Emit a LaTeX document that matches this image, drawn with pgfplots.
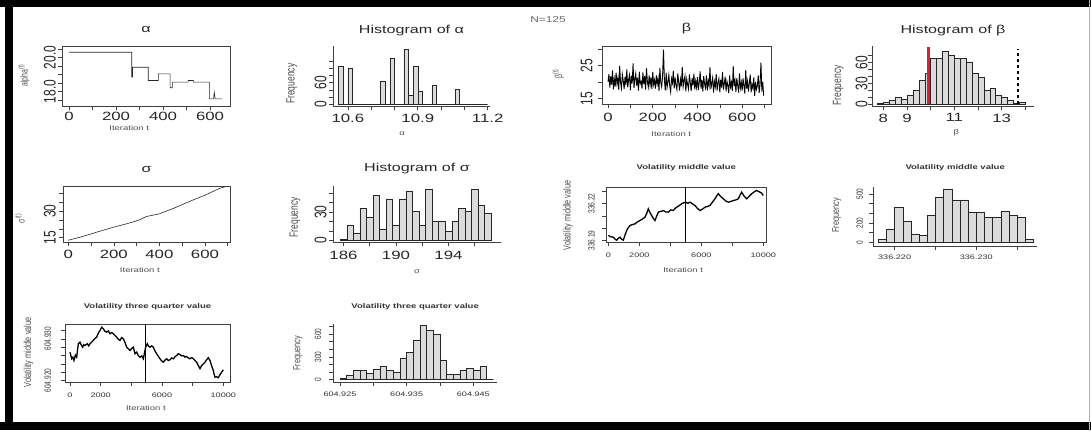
\documentclass[border=0pt]{standalone}
\usepackage{fontspec}
\setmainfont{Liberation Sans}[FakeStretch=1.4]
\newfontfamily\plainfont{Liberation Sans}
\usepackage{graphicx}
\usepackage{pgfplots}
\pgfplotsset{compat=1.18}
\definecolor{barfill}{gray}{0.86}
\definecolor{rred}{rgb}{0.86,0.12,0.25}
\newcommand{\R}[1]{\scalebox{1.4}[1]{\rotatebox{90}{\plainfont #1}}}
\pgfplotsset{
  rbase/.style={scale only axis, anchor=south west, scaled ticks=false,
    /pgf/number format/assume math mode=true,
    axis line style={black!75, line width=0.6pt},
    tick style={black!75, line width=0.6pt},
    tick align=outside, major tick length=4pt, minor tick num=0,
    xtick pos=left, ytick pos=left,
    title style={at={(0.5,1)}, anchor=base, inner sep=0pt},
    xticklabel style={anchor=north, inner sep=0pt},
    yticklabel style={anchor=east, inner sep=0pt},
    xlabel style={anchor=center, inner sep=0pt},
    every axis y label/.style={anchor=center, inner sep=0pt}},
  big/.style={ticklabel style={font=\fontsize{12}{12}\selectfont, text=black!85},
    title style={font=\fontsize{11.5}{11.5}\selectfont, text=black!85},
    xlabel style={font=\fontsize{6.8}{6.8}\selectfont, text=black!70},
    ylabel style={font=\fontsize{8.5}{8.5}\selectfont, text=black!70}},
  small/.style={ticklabel style={font=\fontsize{6.5}{6.5}\selectfont, text=black!80},
    title style={font=\bfseries\fontsize{6.8}{6.8}\selectfont, text=black!80},
    xlabel style={font=\fontsize{6.8}{6.8}\selectfont, text=black!70},
    ylabel style={font=\fontsize{7.3}{7.3}\selectfont, text=black!70}},
  hist/.style={axis x line=bottom, axis y line=left, axis line style={-}, tick align=outside},
  hbar/.style={ybar interval, fill=barfill, draw=black!85, line width=0.5pt}
}
\begin{document}
\begin{tikzpicture}
\path (0pt,0pt) rectangle (1091pt,430pt);
% frame
\fill[black] (0pt,423pt) rectangle (1091pt,430pt);
\fill[black] (4.5pt,1pt) rectangle (12.5pt,430pt);
\fill[black] (0pt,1pt) rectangle (1091pt,9pt);
\draw[gray!60, line width=1pt] (1089.5pt,0pt) -- (1089.5pt,430pt);
\node[font=\fontsize{8.5}{8.5}\selectfont, text=black!60] at (548pt,411pt) {N=125};

% ---------- Panel 1: alpha trace
\begin{axis}[rbase, big, at={(62pt,324pt)}, width=168pt, height=60pt,
  xmin=-30, xmax=685, ymin=17.12, ymax=20.65,
  xtick={0,100,...,600}, xticklabels={0,,200,,400,,600},
  ytick={17.5,18,18.5,19,19.5,20,20.5}, yticklabels={,\R{18.0},,,,\R{20.0},},
  xticklabel style={yshift=-1.7pt}, yticklabel style={xshift=-2pt},
  title={α}, title style={yshift=7.5pt},
  xlabel={Iteration t}, xlabel style={at={(axis description cs:0.40,-0.355)}},
  ylabel={\R{\fontsize{7}{7}\selectfont alpha\textsuperscript{(t)}}}, ylabel style={at={(axis description cs:-0.226,0.517)}}]
\addplot[black!85, line width=0.6pt] coordinates {(0,20.31)(267,20.31)(267,18.85)(270,18.85)(270,19.43)(337,19.43)(337,18.65)(380,18.65)(380,19.04)(430,19.04)(430,18.22)(440,18.22)(440,18.55)(507,18.55)(507,18.65)(529,18.65)(529,18.55)(597,18.55)(597,17.57)(615,17.57)(618,17.96)(622,17.57)(650,17.57)};
\end{axis}

% ---------- Panel 2: hist alpha
\begin{axis}[rbase, big, hist, at={(333pt,324pt)}, width=157pt, height=60pt,
  xmin=10.536, xmax=11.21, ymin=-6, ymax=160,
  xtick={10.6,10.7,...,11.2}, xticklabels={10.6,,,10.9,,,11.2},
  ytick={0,20,...,120}, yticklabels={\R{0},,,\R{60},,,},
  xticklabel style={yshift=-3pt}, yticklabel style={xshift=-2.3pt},
  title={Histogram of α}, title style={yshift=7pt},
  xlabel={α}, xlabel style={at={(axis description cs:0.44,-0.455)}},
  ylabel={\R{Frequency}}, ylabel style={at={(axis description cs:-0.263,0.378)}}]
\addplot[hbar] table[row sep=\\] {x y\\ 10.56 104\\ 10.58 0\\ 10.60 99\\ 10.62 0\\ 10.64 0\\ 10.66 0\\ 10.68 0\\ 10.70 0\\ 10.72 0\\ 10.74 65\\ 10.76 0\\ 10.78 128\\ 10.80 0\\ 10.82 0\\ 10.84 152\\ 10.86 26\\ 10.88 106\\ 10.90 36\\ 10.92 0\\ 10.94 0\\ 10.96 52\\ 10.98 0\\ 11.00 0\\ 11.02 0\\ 11.04 0\\ 11.06 41\\ 11.08 0\\ 11.10 0\\ 11.12 0\\ 11.14 0\\ 11.16 0\\ 11.18 0\\ 11.20 0\\};
\end{axis}

% ---------- Panel 3: beta trace
\begin{axis}[rbase, big, at={(602pt,326pt)}, width=169pt, height=58pt,
  xmin=-27, xmax=729, ymin=13.2, ymax=30.75,
  xtick={0,100,...,700}, xticklabels={0,,200,,400,,600,},
  ytick={15,20,25,30}, yticklabels={\R{15},,\R{25},},
  xticklabel style={yshift=-4.4pt}, yticklabel style={xshift=-5.3pt},
  title={β}, title style={yshift=9pt},
  xlabel={Iteration t}, xlabel style={at={(axis description cs:0.41,-0.505)}},
  ylabel={\R{\fontsize{7}{7}\selectfont β\textsuperscript{(t)}}}, ylabel style={at={(axis description cs:-0.259,0.53)}}]
\addplot[black, line width=0.9pt] table[row sep=\\, header=false, x expr=\coordindex*4, y index=0] {
20.1\\22.4\\18.3\\21.7\\19.2\\23.5\\17.8\\20.9\\18.6\\22.8\\
19.4\\21.2\\17.6\\24.9\\19.8\\18.1\\22.3\\20.4\\17.9\\21.6\\
19.1\\23.8\\18.4\\20.7\\22.1\\17.5\\21.9\\19.6\\25.6\\18.2\\
20.8\\22.6\\18.9\\21.3\\17.4\\23.1\\19.5\\20.2\\18.0\\22.9\\
19.3\\21.8\\17.7\\24.2\\20.1\\18.5\\22.0\\19.0\\21.4\\17.9\\
23.1\\19.2\\20.6\\18.0\\22.0\\19.4\\21.1\\17.3\\24.3\\19.8\\
18.5\\21.9\\29.8\\20.7\\17.5\\22.8\\18.3\\20.0\\22.2\\18.8\\
17.0\\21.0\\19.7\\23.4\\18.1\\21.4\\19.0\\17.7\\22.6\\19.9\\
17.4\\20.8\\18.7\\24.6\\18.6\\20.3\\21.8\\17.2\\20.9\\19.2\\
17.9\\22.3\\19.8\\17.3\\21.2\\19.0\\22.5\\17.8\\20.3\\18.4\\
21.5\\17.6\\19.9\\23.2\\18.0\\20.6\\17.1\\21.8\\19.3\\18.2\\
22.0\\17.5\\20.4\\18.8\\24.5\\17.9\\19.6\\21.3\\16.8\\20.1\\
18.6\\22.4\\17.4\\19.8\\21.0\\16.9\\20.7\\18.3\\23.1\\17.7\\
19.5\\21.6\\17.2\\20.2\\18.9\\16.6\\22.0\\18.5\\19.9\\17.3\\
24.8\\18.7\\20.5\\17.0\\21.2\\19.0\\16.8\\22.6\\18.2\\20.0\\
17.4\\21.1\\18.8\\16.5\\23.7\\18.0\\20.2\\17.1\\19.6\\22.3\\
16.9\\19.3\\18.1\\21.4\\15.8\\20.0\\17.8\\18.9\\22.0\\16.7\\
19.4\\25.9\\17.2\\20.1\\15.9\\
};
\end{axis}

% ---------- Panel 4: hist beta
\begin{axis}[rbase, big, hist, at={(872pt,324pt)}, width=162pt, height=60pt,
  xmin=7.52, xmax=14.37, ymin=-2.9, ymax=82.9,
  xtick={8,...,14}, xticklabels={8,9,,11,,13,},
  ytick={0,10,...,70}, yticklabels={\R{0},,,\R{30},,,\R{60},},
  xticklabel style={yshift=-3pt}, yticklabel style={xshift=-0.3pt},
  title={Histogram of β}, title style={yshift=7pt},
  xlabel={β}, xlabel style={at={(axis description cs:0.52,-0.43)}},
  ylabel={\R{Frequency}}, ylabel style={at={(axis description cs:-0.208,0.35)}}]
\addplot[hbar] table[row sep=\\] {x y\\ 7.75 2\\ 8.00 3\\ 8.25 6\\ 8.50 10\\ 8.75 8\\ 9.00 13\\ 9.25 20\\ 9.50 35\\ 9.75 44\\ 10.00 66\\ 10.25 66\\ 10.50 76\\ 10.75 71\\ 11.00 66\\ 11.25 66\\ 11.50 61\\ 11.75 44\\ 12.00 39\\ 12.25 20\\ 12.50 23\\ 12.75 13\\ 13.00 10\\ 13.25 6\\ 13.50 2\\ 13.75 3\\ 14.00 0\\};
\addplot[rred, line width=2.5pt] coordinates {(9.9,0)(9.9,82)};
\addplot[black, line width=1.4pt, dash pattern=on 3.5pt off 2.5pt] coordinates {(13.7,0)(13.7,80)};
\end{axis}

% ---------- Panel 5: sigma trace
\begin{axis}[rbase, big, at={(63pt,188.3pt)}, width=167pt, height=55.7pt,
  xmin=-23, xmax=710, ymin=12.5, ymax=43.9,
  xtick={0,100,...,700}, xticklabels={0,,200,,400,,600,},
  ytick={15,20,...,40}, yticklabels={\R{15},,,\R{30},,},
  xticklabel style={yshift=-3.4pt}, yticklabel style={xshift=-3pt},
  title={σ}, title style={yshift=8pt},
  xlabel={Iteration t}, xlabel style={at={(axis description cs:0.46,-0.508)}},
  ylabel={\R{\fontsize{7}{7}\selectfont σ\textsuperscript{(t)}}}, ylabel style={at={(axis description cs:-0.257,0.43)}}]
\addplot[black!85, line width=0.6pt] coordinates {(0,13.6)(60,15.6)(126,18.2)(200,21.0)(260,23.0)(307,24.8)(344,27.0)(400,28.5)(470,32.0)(542,36.0)(600,39.0)(667,43.0)(690,43.8)};
\end{axis}

% ---------- Panel 6: hist sigma
\begin{axis}[rbase, big, hist, at={(333pt,188pt)}, width=168pt, height=56pt,
  xmin=185.2, xmax=198.0, ymin=-2.1, ymax=57.2,
  xtick={186,188,...,196}, xticklabels={186,,190,,194,},
  ytick={0,10,...,50}, yticklabels={\R{0},,,\R{30},,},
  xticklabel style={yshift=-4.7pt}, yticklabel style={xshift=-2.3pt},
  title={Histogram of σ}, title style={yshift=9pt},
  xlabel={σ}, xlabel style={at={(axis description cs:0.5,-0.53)}},
  ylabel={\R{Frequency}}, ylabel style={at={(axis description cs:-0.226,0.45)}}]
\addplot[hbar] table[row sep=\\] {x y\\ 185.75 1\\ 186.25 16\\ 186.75 8\\ 187.25 34\\ 187.75 25\\ 188.25 48\\ 188.75 12\\ 189.25 44\\ 189.75 16\\ 190.25 44\\ 190.75 52\\ 191.25 31\\ 191.75 16\\ 192.25 54\\ 192.75 20\\ 193.25 20\\ 193.75 10\\ 194.25 20\\ 194.75 34\\ 195.25 31\\ 195.75 54\\ 196.25 37\\ 196.75 29\\ 197.25 0\\};
\end{axis}

% ---------- Panel 7: volatility middle value trace (y in 0.001 above 336.19)
\begin{axis}[rbase, small, at={(606pt,188.3pt)}, width=160.7pt, height=55pt,
  xmin=-150, xmax=10219, ymin=-1.38, ymax=43.2,
  xtick={0,2000,...,10000}, xticklabels={0,2000,,6000,,10000},
  ytick={0,10,20,30,40}, yticklabels={\R{336.19},,,\R{336.22},},
  xticklabel style={yshift=-7pt}, yticklabel style={xshift=-7.1pt},
  title={Volatility middle value}, title style={yshift=11.7pt},
  xlabel={Iteration t}, xlabel style={at={(axis description cs:0.48,-0.515)}},
  ylabel={\R{Volatility middle value}}, ylabel style={at={(axis description cs:-0.236,0.485)}}]
\addplot[black, line width=1.3pt] coordinates {(0,4.1)(150,3.0)(323,2.7)(430,1.2)(538,0.2)(640,1.8)(753,2.7)(860,1.0)(968,0.3)(1080,4.5)(1183,8.1)(1290,10.4)(1398,12.2)(1560,12.9)(1720,13.5)(1880,15.1)(2043,16.2)(2200,17.4)(2366,18.9)(2470,21.8)(2581,25.7)(2690,22.6)(2796,20.3)(2900,17.9)(3011,16.2)(3120,19.8)(3226,23.0)(3390,23.6)(3548,24.3)(3710,23.1)(3871,23.0)(4030,24.8)(4194,24.3)(4300,25.9)(4409,27.0)(4570,28.2)(4731,29.8)(4860,30.5)(4989,31.1)(5130,30.2)(5269,31.1)(5430,29.6)(5591,28.4)(5750,26.0)(5914,24.3)(6080,25.5)(6237,27.0)(6400,27.6)(6559,28.4)(6720,31.2)(6882,33.8)(6990,36.2)(7097,37.9)(7260,35.5)(7419,33.8)(7580,32.0)(7742,31.1)(7900,31.6)(8065,32.4)(8230,32.9)(8387,33.8)(8500,36.8)(8602,39.2)(8760,36.0)(8925,33.8)(9090,35.9)(9247,37.9)(9410,39.4)(9570,40.6)(9680,39.8)(9785,39.2)(9890,38.4)(10000,36.5)};
\addplot[black, line width=1.5pt] coordinates {(4994,-1.38)(4994,43.2)};
\end{axis}

% ---------- Panel 8: hist volatility middle (x in 0.001 above 336.218)
\begin{axis}[rbase, small, hist, at={(873.3pt,184pt)}, width=163.7pt, height=59pt,
  xmin=-0.61, xmax=19.43, ymin=-44, ymax=566,
  xtick={2,7,12,17}, xticklabels={336.220,,336.230,},
  ytick={0,100,...,500}, yticklabels={\R{0},,\R{200},,,\R{500}},
  xticklabel style={yshift=-4.4pt}, yticklabel style={xshift=-6.1pt},
  title={Volatility middle value}, title style={yshift=12pt},
  ylabel={\R{Frequency}}, ylabel style={at={(axis description cs:-0.224,0.525)}}]
\addplot[hbar] table[row sep=\\] {x y\\ 0 28\\ 1 138\\ 2 362\\ 3 217\\ 4 86\\ 5 69\\ 6 276\\ 7 466\\ 8 552\\ 9 438\\ 10 438\\ 11 310\\ 12 310\\ 13 259\\ 14 259\\ 15 321\\ 16 276\\ 17 259\\ 18 28\\ 19 0\\};
\end{axis}

% ---------- Panel 9: volatility three quarter trace (y in 0.001 above 604.92)
\begin{axis}[rbase, small, at={(65pt,48.3pt)}, width=165pt, height=58.4pt,
  xmin=-326, xmax=10435, ymin=-0.41, ymax=13.6,
  xtick={0,2000,...,10000}, xticklabels={0,2000,,6000,,10000},
  ytick={0,2,...,12}, yticklabels={\R{604.920},,,,,\R{604.930},},
  xticklabel style={yshift=-7pt}, yticklabel style={xshift=-9.8pt},
  title={Volatility three quarter value}, title style={yshift=9.8pt},
  xlabel={Iteration t}, xlabel style={at={(axis description cs:0.49,-0.45)}},
  ylabel={\R{Volatility middle value}}, ylabel style={at={(axis description cs:-0.222,0.51)}}]
\addplot[black, line width=1.3pt] coordinates {(0,6.79)(109,5.21)(190,5.6)(261,4.80)(350,6.1)(435,5.59)(543,8.81)(652,9.19)(740,8.5)(826,7.99)(900,8.6)(978,8.40)(1130,8.81)(1220,8.3)(1304,8.81)(1410,9.2)(1522,9.60)(1630,10.1)(1739,10.39)(1850,11.4)(1957,12.00)(2065,12.79)(2174,12.41)(2280,11.8)(2391,11.59)(2500,11.9)(2609,11.21)(2720,11.5)(2826,11.21)(2930,10.8)(3043,10.39)(3150,9.9)(3261,9.60)(3370,10.3)(3478,10.01)(3590,9.1)(3696,7.99)(3800,7.6)(3913,7.20)(4020,7.7)(4130,7.99)(4239,6.41)(4348,6.79)(4450,6.0)(4565,5.59)(4680,5.9)(4783,5.21)(4860,6.6)(4935,7.99)(5043,8.81)(5130,8.2)(5217,7.99)(5330,8.3)(5435,7.99)(5540,7.1)(5652,6.41)(5760,5.8)(5870,5.21)(5980,4.7)(6087,4.39)(6200,4.9)(6304,5.21)(6410,4.8)(6522,4.97)(6630,5.4)(6739,5.21)(6850,5.7)(6957,6.00)(7060,6.4)(7174,6.24)(7280,5.9)(7391,6.00)(7500,5.6)(7609,5.76)(7720,5.4)(7826,5.21)(7930,5.5)(8043,5.21)(8150,4.8)(8261,4.39)(8370,3.6)(8478,2.81)(8587,3.60)(8700,4.0)(8804,4.39)(8910,5.0)(9022,5.45)(9130,4.80)(9240,3.5)(9348,2.40)(9400,1.5)(9457,0.79)(9560,0.9)(9674,0.65)(9780,1.4)(9891,1.99)(10000,2.57)};
\addplot[black, line width=1.5pt] coordinates {(4935,-0.41)(4935,13.6)};
\end{axis}

% ---------- Panel 10: hist volatility three quarter (x in 0.001 above 604.925)
\begin{axis}[rbase, small, hist, at={(333.3pt,48.3pt)}, width=163.7pt, height=58.4pt,
  xmin=-1.0, xmax=23.55, ymin=-36, ymax=737,
  xtick={0,5,10,15,20}, xticklabels={604.925,,604.935,,604.945},
  ytick={0,100,...,700}, yticklabels={\R{0},,,\R{300},,,\R{600},},
  xticklabel style={yshift=-5.2pt}, yticklabel style={xshift=-7.8pt},
  title={Volatility three quarter value}, title style={yshift=9.8pt},
  ylabel={\R{Frequency}}, ylabel style={at={(axis description cs:-0.216,0.49)}}]
\addplot[hbar] table[row sep=\\] {x y\\ 0 22\\ 1 53\\ 2 128\\ 3 119\\ 4 84\\ 5 141\\ 6 172\\ 7 128\\ 8 97\\ 9 287\\ 10 362\\ 11 525\\ 12 715\\ 13 657\\ 14 604\\ 15 260\\ 16 66\\ 17 66\\ 18 119\\ 19 154\\ 20 128\\ 21 172\\ 22 0\\ 23 0\\};
\end{axis}
\end{tikzpicture}
\end{document}
